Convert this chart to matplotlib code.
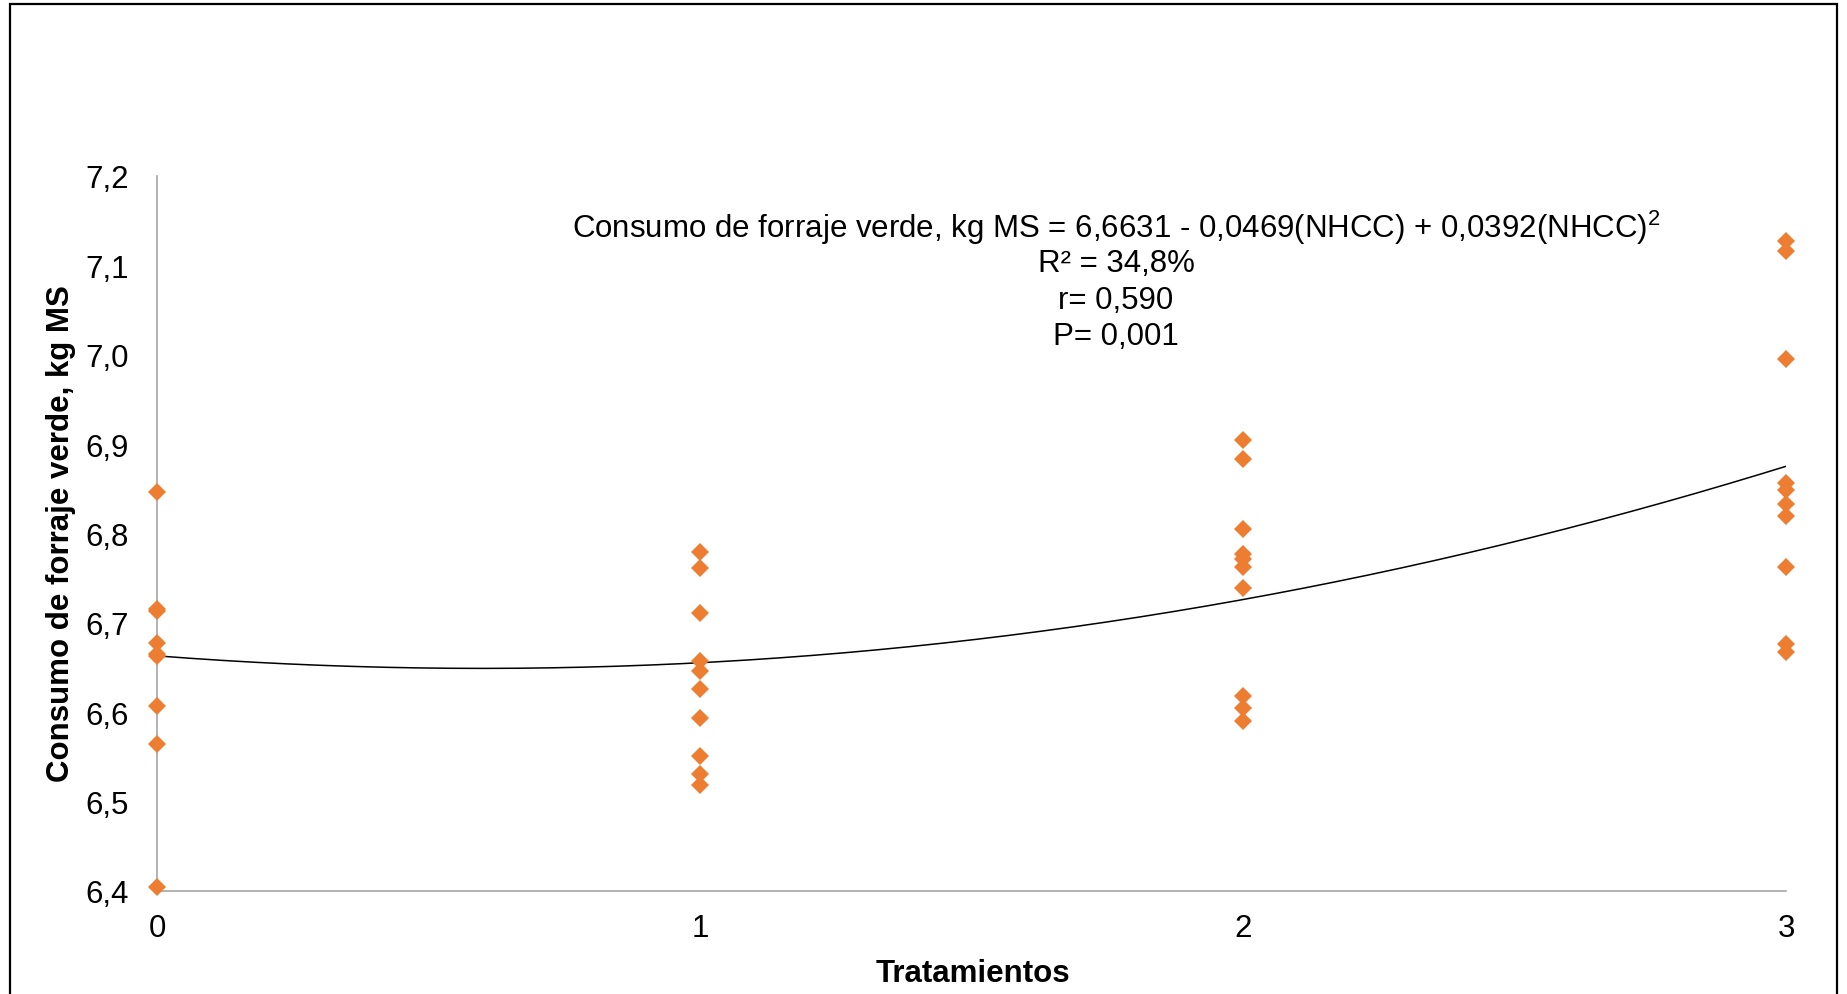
import matplotlib
matplotlib.use("Agg")
import matplotlib.pyplot as plt
import numpy as np
from matplotlib.patches import Rectangle

plt.rcParams['font.family'] = ['Liberation Sans', 'DejaVu Sans']
plt.rcParams['mathtext.fontset'] = 'custom'
plt.rcParams['mathtext.rm'] = 'Liberation Sans'
plt.rcParams['mathtext.it'] = 'Liberation Sans'

# Data
treat_0 = [6.846, 6.716, 6.713, 6.678, 6.665, 6.663, 6.607, 6.564, 6.405]
treat_1 = [6.779, 6.761, 6.711, 6.657, 6.646, 6.626, 6.594, 6.551, 6.531, 6.519]
treat_2 = [6.905, 6.883, 6.805, 6.777, 6.771, 6.762, 6.739, 6.618, 6.605, 6.590]
treat_3 = [7.127, 7.116, 6.995, 6.857, 6.849, 6.833, 6.820, 6.762, 6.676, 6.667]
treatments = [0, 1, 2, 3]
groups = [treat_0, treat_1, treat_2, treat_3]
coef = [6.6631, -0.0469, 0.0392]  # a + b x + c x^2
yticks = [6.4, 6.5, 6.6, 6.7, 6.8, 6.9, 7.0, 7.1, 7.2]
ytick_labels = ['6,4', '6,5', '6,6', '6,7', '6,8', '6,9', '7,0', '7,1', '7,2']
eq_lines = ["Consumo de forraje verde, kg MS = 6,6631 - 0,0469(NHCC) + 0,0392(NHCC)$^{2}$",
            "R² = 34,8%", "r= 0,590", "P= 0,001"]

FS = 22.5
W, H = 1847, 995
fig = plt.figure(figsize=(W / 100, H / 100), dpi=100)
ax = fig.add_axes([157 / W, 1 - 892 / H, (1786 - 157) / W, (892 - 177) / H])

for t, vals in zip(treatments, groups):
    ax.plot([t] * len(vals), vals, linestyle='none', marker='D', ms=9.5,
            color='#ED7D31', markeredgewidth=0, clip_on=False, zorder=3)

xs = np.linspace(0, 3, 200)
ax.plot(xs, coef[0] + coef[1] * xs + coef[2] * xs ** 2, color='black', lw=1.1, zorder=2)

ax.set_xlim(0, 3)
ax.set_ylim(6.4, 7.2)
ax.set_xticks(treatments)
ax.set_xticklabels([str(t) for t in treatments])
ax.set_yticks(yticks)
ax.set_yticklabels(ytick_labels)
ax.tick_params(axis='both', length=0, labelsize=FS)
ax.tick_params(axis='y', pad=20)
ax.tick_params(axis='x', pad=16)
for s in ['top', 'right']:
    ax.spines[s].set_visible(False)
for s in ['left', 'bottom']:
    ax.spines[s].set_color('#A6A6A6')
    ax.spines[s].set_linewidth(1.2)

fig.text(61 / W, 1 - 534 / H, "Consumo de forraje verde, kg MS", rotation=90,
         ha='center', va='center', fontsize=FS, fontweight='bold')
fig.text(973 / W, 1 - 974 / H, "Tratamientos", ha='center', va='center',
         fontsize=FS, fontweight='bold')

for i, line in enumerate(eq_lines):
    fig.text(1116 / W, 1 - (228 + 36.5 * i) / H, line, ha='center', va='center', fontsize=FS)

fig.patches.append(Rectangle((10 / W, -0.05), (1837 - 10) / W, 1 - 5 / H + 0.05,
                             transform=fig.transFigure, fill=False, edgecolor='black',
                             linewidth=1.6))

fig.savefig("out.png", dpi=100)
